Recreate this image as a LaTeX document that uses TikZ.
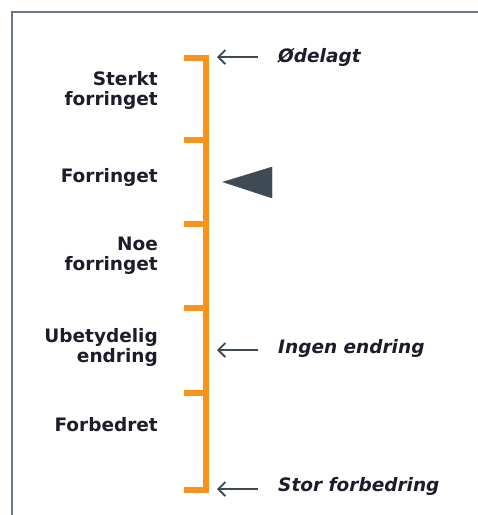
\documentclass[tikz,border=0pt]{standalone}
\usepackage{fontspec}
\setmainfont{DejaVu Sans}
\usetikzlibrary{arrows.meta}
\definecolor{scaleorange}{HTML}{F7941D}
\definecolor{slate}{HTML}{3E4B54}
\definecolor{framegray}{HTML}{6B7780}
\definecolor{txt}{HTML}{1C1C2C}
\tikzset{
  lbl/.style={font=\bfseries\fontsize{18.5}{20}\selectfont, text=txt, inner sep=0pt, align=right, anchor=east},
  rlbl/.style={font=\bfseries\itshape\fontsize{18.5}{20}\selectfont, text=txt, inner sep=0pt, anchor=west},
  ptr/.style={draw=slate, line width=1.8pt, -{Straight Barb[length=7pt,width=14pt]}},
  scaleline/.style={draw=scaleorange, line width=5.5pt, miter limit=10},
}
\begin{document}
\begin{tikzpicture}[x=1pt,y=-1pt]
\useasboundingbox (0,0) rectangle (478,515);
% frame (open at right and bottom)
\draw[framegray, line width=2pt] (11.5,520) -- (11.5,11.5) -- (482,11.5);
% scale
\coordinate (t0) at (184,58);
\coordinate (t1) at (184,140);
\coordinate (t2) at (184,224);
\coordinate (t3) at (184,308);
\coordinate (t4) at (184,393);
\coordinate (t5) at (184,490);
\coordinate (top) at (206,58);
\coordinate (bot) at (206,490);
\draw[scaleline] (t0) -- (top) -- (bot) -- (t5);
\foreach \i in {1,2,3,4} \draw[scaleline] (t\i) -- (206,0 |- t\i);
% left labels
\node[lbl] (l1) at (158,90) {Sterkt\\forringet};
\node[lbl] (l2) at (158,177) {Forringet};
\node[lbl] (l3) at (158,256) {Noe\\forringet};
\node[lbl] (l4) at (158,347) {Ubetydelig\\endring};
\node[lbl] (l5) at (158,425) {Forbedret};
% indicator triangle
\filldraw[slate] (223,182) -- (272,167) -- (272,198) -- cycle;
% right labels and pointers
\node[rlbl] (r1) at (278,57) {Ødelagt};
\node[rlbl] (r2) at (278,348) {Ingen endring};
\node[rlbl] (r3) at (278,486) {Stor forbedring};
\coordinate (a1s) at (258,57);  \coordinate (a1e) at (217,57);
\coordinate (a2s) at (258,350); \coordinate (a2e) at (217,350);
\coordinate (a3s) at (258,489); \coordinate (a3e) at (217,489);
\draw[ptr] (a1s) -- (a1e);
\draw[ptr] (a2s) -- (a2e);
\draw[ptr] (a3s) -- (a3e);
\end{tikzpicture}
\end{document}
